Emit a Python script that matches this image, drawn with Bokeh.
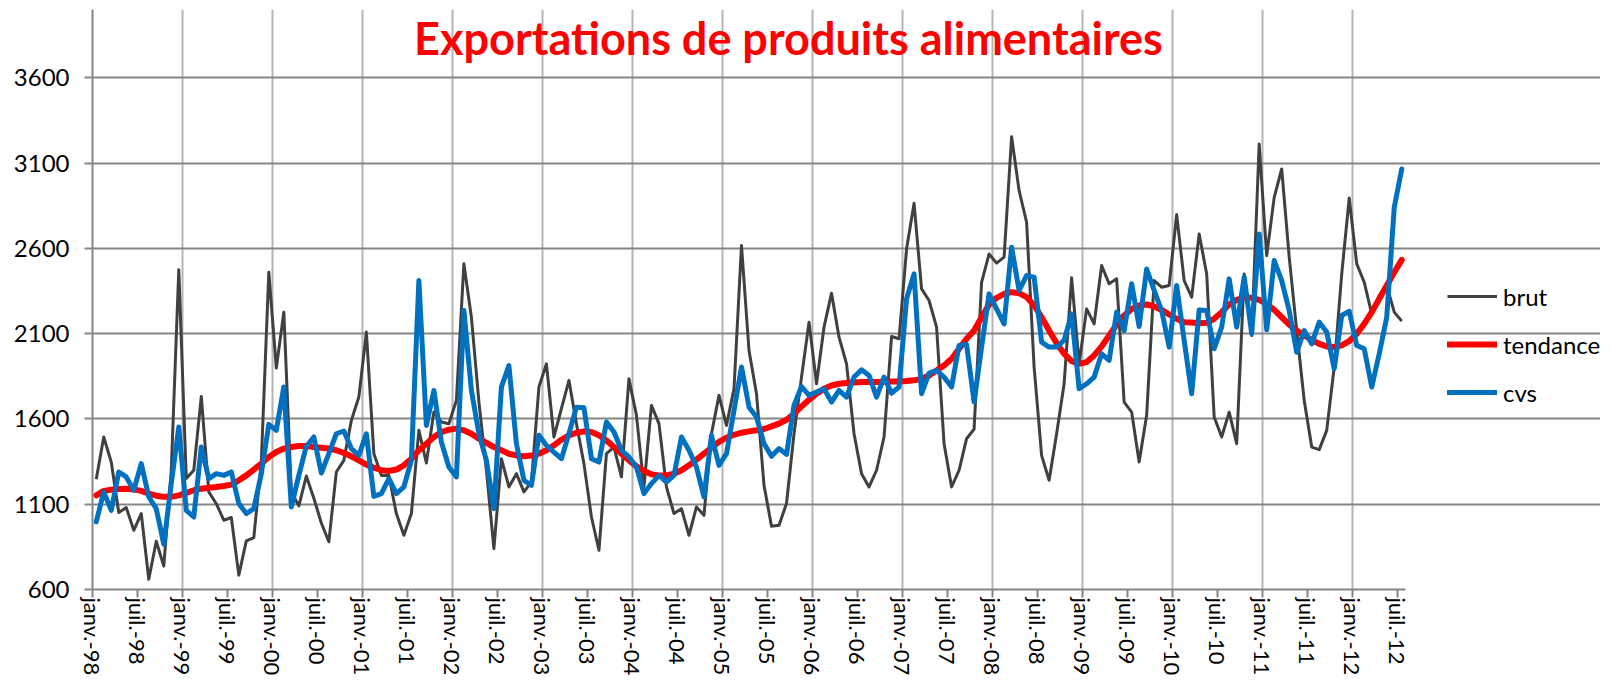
from bokeh.plotting import figure
from bokeh.models import Range1d, FixedTicker, Legend, LegendItem, Label
from bokeh.embed import file_html
from bokeh.resources import INLINE

title_text = "Exportations de produits alimentaires"

tick_labels = [
    "janv.-98", "juil.-98", "janv.-99", "juil.-99", "janv.-00", "juil.-00",
    "janv.-01", "juil.-01", "janv.-02", "juil.-02", "janv.-03", "juil.-03",
    "janv.-04", "juil.-04", "janv.-05", "juil.-05", "janv.-06", "juil.-06",
    "janv.-07", "juil.-07", "janv.-08", "juil.-08", "janv.-09", "juil.-09",
    "janv.-10", "juil.-10", "janv.-11", "juil.-11", "janv.-12", "juil.-12",
]
y_ticks = [600, 1100, 1600, 2100, 2600, 3100, 3600]

brut = [
    1246, 1494, 1347, 1051, 1080, 947, 1045, 660, 883, 737, 1300, 2474,
    1250, 1299, 1732, 1172, 1103, 1006, 1022, 684, 885, 904, 1350, 2460,
    1898, 2226, 1172, 1090, 1265, 1135, 990, 880, 1289, 1357, 1591, 1728,
    2109, 1396, 1269, 1269, 1045, 918, 1045, 1533, 1342, 1640, 1582, 1572,
    1708, 2509, 2196, 1700, 1300, 840, 1367, 1201, 1279, 1172, 1230, 1787,
    1923, 1494, 1660, 1826, 1572, 1338, 1025, 830, 1396, 1435, 1260, 1835,
    1621, 1201, 1679, 1572, 1201, 1045, 1074, 918, 1084, 1035, 1513, 1738,
    1562, 1777, 2616, 2001, 1748, 1211, 971, 977, 1104, 1513, 1845, 2167,
    1806, 2138, 2337, 2079, 1923, 1513, 1279, 1201, 1299, 1494, 2083, 2070,
    2596, 2864, 2362, 2294, 2138, 1455, 1201, 1299, 1484, 1540, 2401, 2567,
    2513, 2548, 3254, 2938, 2753, 1904, 1386, 1240, 1513, 1806, 2427, 1923,
    2245, 2157, 2499, 2392, 2421, 1699, 1640, 1347, 1621, 2411, 2372, 2382,
    2798, 2411, 2314, 2684, 2450, 1611, 1494, 1640, 1455, 2450, 2089, 3211,
    2557, 2899, 3065, 2548, 2118, 1708, 1435, 1420, 1533, 1904, 2450, 2895,
    2509, 2401, 2216, 2323, 2382, 2226, 2173,
]

tendance = [
    1152, 1178, 1185, 1189, 1191, 1187, 1178, 1162, 1150, 1143, 1143, 1152,
    1166, 1182, 1191, 1197, 1201, 1207, 1215, 1240, 1269, 1303, 1338, 1377,
    1406, 1426, 1435, 1441, 1441, 1435, 1431, 1426, 1416, 1400, 1381, 1357,
    1332, 1314, 1299, 1295, 1303, 1328, 1367, 1416, 1455, 1494, 1523, 1537,
    1543, 1533, 1513, 1484, 1459, 1435, 1416, 1396, 1386, 1381, 1385, 1396,
    1416, 1445, 1478, 1504, 1519, 1527, 1523, 1504, 1474, 1435, 1396, 1357,
    1322, 1295, 1275, 1269, 1269, 1279, 1299, 1328, 1361, 1396, 1431, 1465,
    1490, 1507, 1519, 1527, 1533, 1541, 1556, 1572, 1595, 1630, 1673, 1712,
    1748, 1777, 1796, 1806, 1810, 1814, 1816, 1816, 1816, 1818, 1820, 1820,
    1822, 1826, 1835, 1855, 1884, 1913, 1952, 2011, 2070, 2118, 2196, 2271,
    2310, 2333, 2343, 2337, 2314, 2265, 2196, 2118, 2044, 1982, 1939, 1923,
    1933, 1972, 2025, 2089, 2153, 2206, 2245, 2265, 2271, 2259, 2239, 2212,
    2187, 2167, 2165, 2161, 2163, 2187, 2226, 2271, 2298, 2310, 2310, 2298,
    2274, 2239, 2196, 2153, 2118, 2089, 2064, 2040, 2025, 2021, 2031, 2056,
    2099, 2157, 2226, 2304, 2382, 2460, 2532,
]

cvs = [
    996, 1172, 1064, 1289, 1260, 1182, 1338, 1143, 1074, 865, 1221, 1552,
    1064, 1025, 1435, 1250, 1279, 1269, 1289, 1104, 1045, 1074, 1279, 1568,
    1533, 1787, 1084, 1269, 1440, 1494, 1283, 1396, 1513, 1529, 1426, 1386,
    1513, 1146, 1162, 1250, 1162, 1201, 1357, 2411, 1562, 1767, 1465, 1318,
    1260, 2235, 1767, 1513, 1357, 1074, 1787, 1913, 1455, 1240, 1211, 1504,
    1445, 1406, 1367, 1513, 1669, 1666, 1367, 1347, 1582, 1523, 1416, 1377,
    1318, 1162, 1221, 1269, 1230, 1269, 1494, 1416, 1318, 1143, 1504, 1328,
    1396, 1650, 1904, 1669, 1611, 1455, 1381, 1426, 1392, 1679, 1790, 1738,
    1757, 1777, 1699, 1767, 1728, 1845, 1888, 1855, 1728, 1845, 1751, 1787,
    2304, 2450, 1748, 1869, 1884, 1845, 1787, 2031, 2036, 1700, 2021, 2333,
    2245, 2157, 2606, 2353, 2440, 2431, 2050, 2021, 2021, 2060, 2216, 1777,
    1806, 1845, 1982, 1943, 2226, 2118, 2392, 2142, 2479, 2353, 2235, 2021,
    2382, 2060, 1748, 2239, 2235, 2011, 2138, 2421, 2138, 2431, 2099, 2684,
    2122, 2528, 2411, 2235, 1991, 2118, 2040, 2167, 2109, 1894, 2206, 2231,
    2030, 2011, 1787, 1982, 2196, 2840, 3065,
]

n = len(brut)
xs = [i + 0.5 for i in range(n)]
tick_pos = [6 * k for k in range(len(tick_labels))]

FONT = "Lato"
GRID_DARK = "#868686"
GRID_LIGHT = "#b4b4b4"

# layout: frame spans from x=92 to the right edge of the figure; the data
# part occupies [92, 1405] and the legend sits to its right.
W, H = 1600, 678
LEFT, DATA_RIGHT = 92, 1405
x_end = n * (W - LEFT) / (DATA_RIGHT - LEFT)

p = figure(
    width=W, height=H,
    x_range=Range1d(0, x_end), y_range=Range1d(600, 4000),
    output_backend="svg", toolbar_location=None,
    min_border_left=LEFT, min_border_right=0,
    min_border_top=9, min_border_bottom=89,
    background_fill_color="white", border_fill_color="white",
)
p.outline_line_color = None

# axes
p.xaxis.ticker = FixedTicker(ticks=tick_pos)
p.xaxis.bounds = (0, n)
p.xaxis.major_label_overrides = {t: lab for t, lab in zip(tick_pos, tick_labels)}
p.xaxis.major_label_orientation = "vertical"
p.xaxis.major_label_text_font = FONT
p.xaxis.major_label_text_font_size = "22px"
p.xaxis.major_label_text_color = "black"
p.xaxis.major_label_standoff = 0
p.xaxis.axis_line_color = GRID_DARK
p.xaxis.axis_line_width = 2
p.xaxis.major_tick_line_color = GRID_DARK
p.xaxis.major_tick_line_width = 2
p.xaxis.major_tick_in = 0
p.xaxis.major_tick_out = 8
p.xaxis.minor_tick_line_color = None

p.yaxis.ticker = FixedTicker(ticks=y_ticks)
p.yaxis.major_label_text_font = FONT
p.yaxis.major_label_text_font_size = "24px"
p.yaxis.major_label_text_color = "black"
p.yaxis.major_label_standoff = 15
p.yaxis.axis_line_color = GRID_DARK
p.yaxis.axis_line_width = 2
p.yaxis.major_tick_line_color = GRID_DARK
p.yaxis.major_tick_line_width = 2
p.yaxis.major_tick_in = 0
p.yaxis.major_tick_out = 8
p.yaxis.minor_tick_line_color = None

# grids
p.ygrid.ticker = FixedTicker(ticks=y_ticks)
p.ygrid.bounds = (0, n)
p.ygrid.grid_line_color = GRID_DARK
p.ygrid.grid_line_width = 2
p.xgrid.ticker = FixedTicker(ticks=tick_pos[2::2])
p.xgrid.grid_line_color = GRID_LIGHT
p.xgrid.grid_line_width = 2

# series
r_brut = p.line(xs, brut, line_color="#404040", line_width=3, line_join="round")
r_tend = p.line(xs, tendance, line_color="#ff0000", line_width=6,
                line_join="round", line_cap="round")
r_cvs = p.line(xs, cvs, line_color="#0070c0", line_width=5,
               line_join="round", line_cap="round")

legend = Legend(
    items=[
        LegendItem(label="brut", renderers=[r_brut]),
        LegendItem(label="tendance", renderers=[r_tend]),
        LegendItem(label="cvs", renderers=[r_cvs]),
    ],
    location=(1355, 182),
    orientation="vertical",
    padding=0, margin=0, spacing=18,
    glyph_width=50, glyph_height=30, label_height=30,
    label_standoff=6,
    label_text_font=FONT, label_text_font_size="24px", label_text_color="black",
    background_fill_alpha=0, border_line_color=None,
)
p.add_layout(legend)

title = Label(
    x=696, y=552, x_units="screen", y_units="screen",
    text=title_text, text_align="center", text_baseline="alphabetic",
    text_font=FONT, text_font_style="bold", text_font_size="45px",
    text_color="#ff0000",
)
p.add_layout(title)

open("out.html", "w").write(file_html(p, INLINE))
